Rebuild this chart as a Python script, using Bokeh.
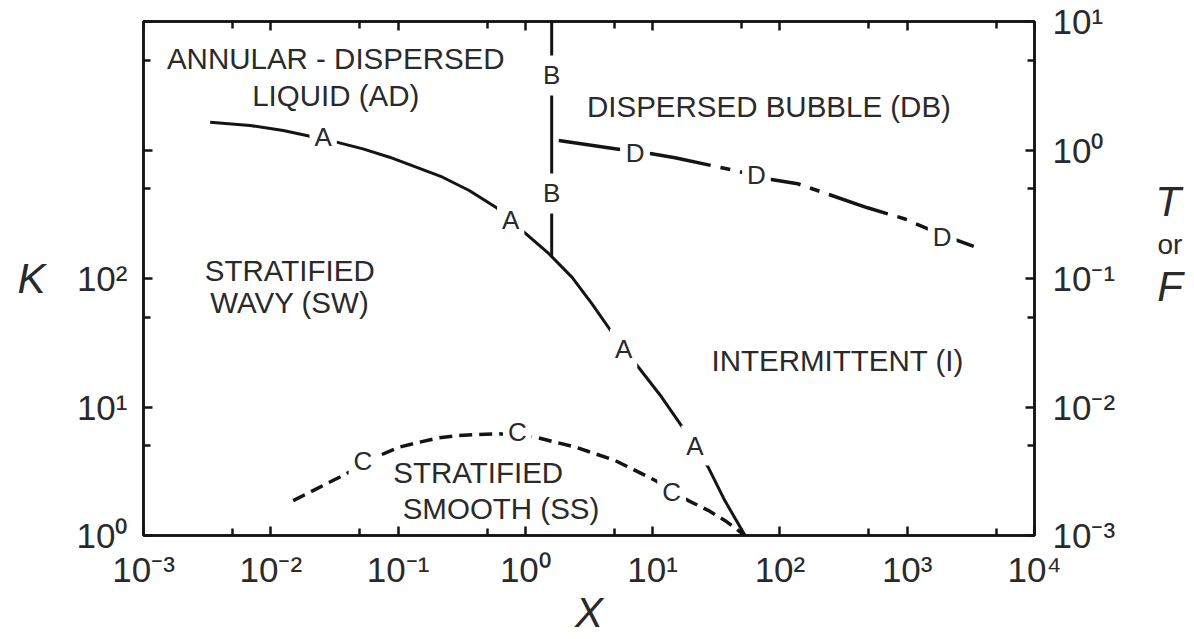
from bokeh.plotting import figure
from bokeh.models import Range1d, LogAxis, FixedTicker, ColumnDataSource, LabelSet, Label, Div
from bokeh.layouts import row
from bokeh.core.properties import value
from bokeh.embed import file_html
from bokeh.resources import INLINE

# ---------------- data ----------------
x_ticks = [1e-3, 1e-2, 1e-1, 1e0, 1e1, 1e2, 1e3, 1e4]
x_tick_labels = ["10⁻³", "10⁻²", "10⁻¹", "10⁰", "10¹", "10²", "10³", "10⁴"]
x_minor = [5e-3, 5e-2, 5e-1, 5e0, 5e1, 5e2, 5e3]

k_ticks = [1e0, 1e1, 1e2, 1e3, 1e4]
k_tick_labels = ["10⁰", "10¹", "10²", "", ""]
k_minor = [5e0, 5e1, 5e2, 5e3]

tf_ticks = [1e-3, 1e-2, 1e-1, 1e0, 1e1]
tf_tick_labels = ["10⁻³", "10⁻²", "10⁻¹", "10⁰", "10¹"]
tf_minor = [5e-3, 5e-2, 5e-1, 5e0]

# Curve A : F vs X (right axis)
a_x = [0.00334, 0.00687, 0.01253, 0.0191, 0.0328, 0.0530, 0.0857, 0.1387, 0.224,
       0.362, 0.586, 0.946, 1.53, 2.33, 3.34, 5.09, 7.74, 11.8, 17.9, 27.3, 36.9, 53.2]
a_f = [1.645, 1.552, 1.418, 1.297, 1.151, 1.021, 0.879, 0.735, 0.614,
       0.484, 0.359, 0.236, 0.156, 0.102, 0.0635, 0.0349, 0.0204, 0.0119, 0.00656,
       0.00340, 0.00187, 0.001]

# Curve B : X = const (right axis scale)
b_x = [1.61, 1.61]
b_f = [0.150, 10.0]

# Curve C : K vs X (left axis)
c_x = [0.0150, 0.0203, 0.0274, 0.0369, 0.0714, 0.1026, 0.147, 0.211, 0.302, 0.433,
       0.621, 1.205, 1.73, 2.48, 3.55, 5.09, 7.29, 10.5, 19.05, 27.3, 36.9, 53.2]
c_k = [1.87, 2.17, 2.53, 2.93, 4.19, 4.87, 5.32, 5.76, 6.00, 6.11,
       6.19, 5.82, 5.32, 4.87, 4.32, 3.83, 3.21, 2.68, 1.87, 1.57, 1.31, 1.0]

# Curve D : T vs X (right axis)
d_x = [1.83, 5.73, 9.84, 15.0, 46.9, 85.5, 138, 488, 946, 1439, 2472, 3758]
d_t = [1.186, 1.004, 0.934, 0.869, 0.684, 0.589, 0.546, 0.355, 0.292, 0.244, 0.198, 0.170]

# curve letters
tf_letters = ["A", "A", "A", "A", "B", "B", "D", "D", "D"]
tf_letter_x = [0.0258, 0.767, 5.91, 21.5, 1.61, 1.61, 7.29, 65.3, 1884]
tf_letter_y = [1.258, 0.283, 0.0284, 0.00501, 3.80, 0.459, 0.944, 0.634, 0.210]
k_letters = ["C", "C", "C"]
k_letter_x = [0.053, 0.865, 14.1]
k_letter_y = [3.83, 6.37, 2.17]

# region names
regions = ["ANNULAR - DISPERSED", "LIQUID (AD)", "DISPERSED BUBBLE (DB)", "STRATIFIED",
           "WAVY (SW)", "INTERMITTENT (I)", "STRATIFIED", "SMOOTH (SS)"]
region_x = [0.0324, 0.0324, 82.0, 0.0141, 0.0141, 284.0, 0.426, 0.644]
region_y = [5152, 2655, 2181, 115, 65, 23.0, 3.09, 1.62]

right_title = ["T", "or", "F"]

# ---------------- style ----------------
FONT = "Liberation Sans"
INK = "#141414"
TXT = "#2a2a2a"
PLOT_W = 1118

p = figure(width=PLOT_W, height=639, x_axis_type="log", y_axis_type="log",
           x_range=Range1d(1e-3, 1e4), y_range=Range1d(1, 1e4),
           output_backend="svg", toolbar_location=None,
           min_border_left=143, min_border_right=PLOT_W - 1037, min_border_top=21,
           min_border_bottom=104)
p.extra_y_ranges = {"tf": Range1d(1e-3, 1e1)}
p.xgrid.visible = False
p.ygrid.visible = False
p.outline_line_color = INK
p.outline_line_width = 2.5
p.background_fill_color = "white"
p.border_fill_color = "white"

bottom_axis = p.below[0]
left_axis = p.left[0]
top_axis = LogAxis()
p.add_layout(top_axis, "above")
right_axis = LogAxis(y_range_name="tf")
p.add_layout(right_axis, "right")


def style(ax, ticks, minor, labels, size="35px"):
    ax.ticker = FixedTicker(ticks=ticks, minor_ticks=minor)
    ax.major_label_overrides = dict(zip(ticks, labels))
    ax.axis_line_color = INK
    ax.axis_line_width = 2.5
    ax.major_tick_in = 9
    ax.major_tick_out = 0
    ax.minor_tick_in = 7
    ax.minor_tick_out = 0
    ax.major_tick_line_color = INK
    ax.major_tick_line_width = 2.5
    ax.minor_tick_line_color = INK
    ax.minor_tick_line_width = 2.5
    ax.major_label_text_font = FONT
    ax.major_label_text_font_size = size
    ax.major_label_text_color = TXT
    ax.major_label_standoff = 16


style(bottom_axis, x_ticks, x_minor, x_tick_labels)
bottom_axis.major_label_standoff = 14
style(left_axis, k_ticks, k_minor, k_tick_labels)
style(right_axis, tf_ticks, tf_minor, tf_tick_labels)
right_axis.major_label_standoff = 18
style(top_axis, x_ticks, x_minor, [""] * len(x_ticks), size="1px")
top_axis.major_label_standoff = 0

for ax, lab, sd in ((bottom_axis, "X", -3), (left_axis, "K", 28)):
    ax.axis_label = lab
    ax.axis_label_text_font = FONT
    ax.axis_label_text_font_style = "italic"
    ax.axis_label_text_font_size = "42px"
    ax.axis_label_text_color = TXT
    ax.axis_label_standoff = sd
left_axis.axis_label_orientation = "horizontal"

# curves
p.line(a_x, a_f, y_range_name="tf", line_color=INK, line_width=3, line_join="round")
p.line(b_x, b_f, y_range_name="tf", line_color=INK, line_width=3)
p.line(c_x, c_k, line_color=INK, line_width=3.5, line_dash="13 7", line_join="round")
p.line(d_x, d_t, y_range_name="tf", line_color=INK, line_width=3.5, line_dash="62 10 10 10",
       line_join="round")

# curve letters, each on a white patch that breaks the line
has_pad = "padding" in Label.properties()
for letters, xs, ys, rn in ((tf_letters, tf_letter_x, tf_letter_y, "tf"),
                            (k_letters, k_letter_x, k_letter_y, "default")):
    for t, xx, yy in zip(letters, xs, ys):
        kw = dict(x=xx, y=yy, y_range_name=rn, text_font=FONT, text_font_size="26px",
                  text_color=TXT, text_align="center", text_baseline="middle",
                  background_fill_color="white", background_fill_alpha=1.0)
        if has_pad:
            kw["padding"] = 5
            kw["text"] = t
        else:
            kw["text"] = "\u2009" + t + "\u2009"
        p.add_layout(Label(**kw))

# region names
src_r = ColumnDataSource(dict(x=region_x, y=region_y, t=regions))
p.add_layout(LabelSet(x="x", y="y", text="t", source=src_r,
                      text_font=value(FONT), text_font_size="29.5px", text_color=TXT,
                      text_align="center", text_baseline="middle"))

# right-hand axis title (T or F), set beside the plot
div_w = 1194 - PLOT_W
html = (
    f'<div style="position:relative;width:{div_w}px;height:639px;'
    f'font-family:\'{FONT}\';color:{TXT};">'
    f'<div style="position:absolute;left:30px;width:40px;top:180px;'
    f'text-align:center;font-style:italic;font-size:42px;line-height:44px;">{right_title[0]}</div>'
    f'<div style="position:absolute;left:32px;width:40px;top:230px;'
    f'text-align:center;font-size:28px;line-height:30px;">{right_title[1]}</div>'
    f'<div style="position:absolute;left:32px;width:40px;top:265px;'
    f'text-align:center;font-style:italic;font-size:42px;line-height:44px;">{right_title[2]}</div>'
    '</div>'
)
div = Div(text=html, width=div_w, height=639, margin=(0, 0, 0, 0))

layout = row(p, div, spacing=0)
open("out.html", "w").write(file_html(layout, INLINE))
